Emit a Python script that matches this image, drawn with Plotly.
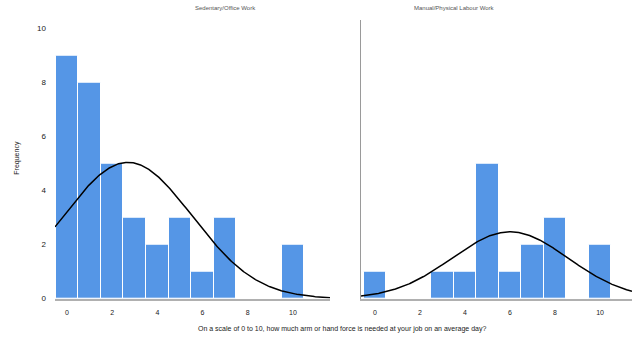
import numpy as np
import plotly.graph_objects as go

# Response scale and counts per group
scores = list(range(0, 11))
counts_left = [9, 8, 5, 3, 2, 3, 1, 3, 0, 0, 2]
counts_right = [1, 0, 0, 1, 1, 5, 1, 2, 3, 0, 2]
panel_titles = ["Sedentary/Office Work", "Manual/Physical Labour Work"]
tick_vals = [0, 2, 4, 6, 8, 10]
y_ticks = [0, 2, 4, 6, 8, 10]
x_title = "On a scale of 0 to 10, how much arm or hand force is needed at your job on an average day?"
y_title = "Frequency"

BAR = "rgb(85,150,230)"
W, H = 632, 345


def normal_curve(vals, cnts, x0, x1):
    data = np.repeat(vals, cnts)
    mu = data.mean()
    sd = data.std(ddof=1)
    xs = np.linspace(x0, x1, 300)
    ys = len(data) * np.exp(-0.5 * ((xs - mu) / sd) ** 2) / (sd * np.sqrt(2 * np.pi))
    return xs, ys


xr_left = [-0.53, 11.64]
xr_right = [-0.62, 11.42]
yr = [0, 10.33]

fig = go.Figure()
fig.add_trace(go.Bar(x=scores, y=counts_left, width=1, marker=dict(color=BAR, line=dict(color="white", width=1)),
                     xaxis="x", yaxis="y", showlegend=False))
fig.add_trace(go.Bar(x=scores, y=counts_right, width=1, marker=dict(color=BAR, line=dict(color="white", width=1)),
                     xaxis="x2", yaxis="y2", showlegend=False))

xs, ys = normal_curve(scores, counts_left, *xr_left)
fig.add_trace(go.Scatter(x=xs, y=ys, mode="lines", line=dict(color="black", width=1.5),
                         xaxis="x", yaxis="y", showlegend=False))
xs, ys = normal_curve(scores, counts_right, *xr_right)
fig.add_trace(go.Scatter(x=xs, y=ys, mode="lines", line=dict(color="black", width=1.5),
                         xaxis="x2", yaxis="y2", showlegend=False))

dom_left = [55 / W, 330 / W]
dom_right = [361 / W, 1.0]
dom_y = [(H - 303) / H, (H - 20) / H]

FONT = "Liberation Sans, Arial"
tickfont = dict(family=FONT, size=7, color="#222")
common_x = dict(tickvals=tick_vals, ticks="", showgrid=False, zeroline=False, showline=True,
                linecolor="#b0b0b0", linewidth=1.5, tickfont=tickfont, ticklabelstandoff=6)

fig.update_layout(
    width=W, height=H, margin=dict(l=0, r=0, t=0, b=0), autosize=False,
    paper_bgcolor="white", plot_bgcolor="white", bargap=0,
    xaxis=dict(domain=dom_left, range=xr_left, anchor="y", **common_x),
    xaxis2=dict(domain=dom_right, range=xr_right, anchor="y2", **common_x),
    yaxis=dict(domain=dom_y, range=yr, anchor="x", tickvals=y_ticks, showgrid=False, zeroline=False,
               showline=False, ticks="", ticklabelstandoff=8,
               tickfont=dict(family=FONT, size=8, color="#222")),
    yaxis2=dict(domain=dom_y, range=yr, anchor="x2", showticklabels=False, showgrid=False, zeroline=False,
                showline=True, linecolor="#9a9a9a", linewidth=1, ticks=""),
    annotations=[
        dict(text=panel_titles[0], x=(dom_left[0] + dom_left[1]) / 2, y=(H - 8) / H, xref="paper", yref="paper",
             yanchor="middle", showarrow=False, font=dict(family=FONT, size=6, color="#555")),
        dict(text=panel_titles[1], x=(dom_right[0] + dom_right[1]) / 2, y=(H - 8) / H, xref="paper", yref="paper",
             yanchor="middle", showarrow=False, font=dict(family=FONT, size=6, color="#555")),
        dict(text=x_title, x=342 / W, y=(H - 334) / H, xref="paper", yref="paper", showarrow=False,
             yanchor="middle", font=dict(family=FONT, size=7, color="#222")),
        dict(text=y_title, x=17 / W, y=(H - 160) / H, xref="paper", yref="paper", showarrow=False, textangle=-90,
             xanchor="center", yanchor="middle", font=dict(family=FONT, size=7, color="#222")),
    ],
)

fig.write_html("out.html")
